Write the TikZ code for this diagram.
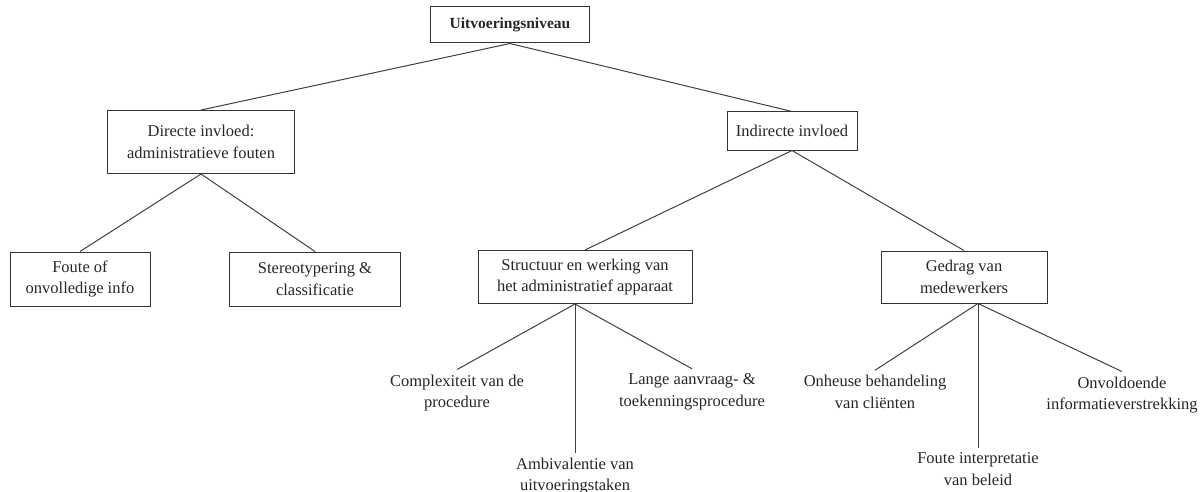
\documentclass[tikz,border=0pt]{standalone}
\usepackage{fontspec}
\setmainfont{Liberation Serif}
\usetikzlibrary{positioning}

\begin{document}
\begin{tikzpicture}[x=1pt, y=-1pt, font=\fontsize{16.5}{21.5}\selectfont]
          \tikzstyle{box}=[rectangle, draw=black!80, line width=1pt, align=center, inner sep=2pt, text=black!85]
          \tikzstyle{leaf}=[align=center, inner sep=5pt, text=black!85]
          \tikzstyle{tak}=[draw=black!75, line width=1pt]

          \useasboundingbox (0,0) rectangle (1204,492);

          \node[box, font=\fontsize{15.5}{21}\selectfont\bfseries, minimum width=159, minimum height=36] (top) at (510,25) {Uitvoeringsniveau};

          \node[box, minimum width=187, minimum height=63] (direct) at (201,142) {Directe invloed:\\administratieve fouten};
          \node[box, minimum width=130, minimum height=38] (indirect) at (792,131) {Indirecte invloed};

          \node[box, minimum width=140, minimum height=54] (foute) at (80,279) {Foute of\\onvolledige info};
          \node[box, minimum width=171, minimum height=54] (stereo) at (315,279) {Stereotypering \&\\classificatie};
          \node[box, minimum width=214, minimum height=53] (structuur) at (585,277) {Structuur en werking van\\het administratief apparaat};
          \node[box, minimum width=166, minimum height=52] (gedrag) at (964,277) {Gedrag van\\medewerkers};

          \node[leaf] (complex) at (457,393) {Complexiteit van de\\procedure};
          \node[leaf] (ambi) at (575,476) {Ambivalentie van\\uitvoeringstaken};
          \node[leaf] (lange) at (692,392) {Lange aanvraag- \&\\toekenningsprocedure};

          \node[leaf] (onheuse) at (875,392) {Onheuse behandeling\\van cliënten};
          \node[leaf] (interpretatie) at (978,469) {Foute interpretatie\\van beleid};
          \node[leaf] (onvoldoende) at (1122,395) {Onvoldoende\\informatieverstrekking};

          \path[tak] (top.south) -- (direct.north);
          \path[tak] (top.south) -- (indirect.north);
          \path[tak] (direct.south) -- (foute.north);
          \path[tak] (direct.south) -- (stereo.north);
          \path[tak] (indirect.south) -- (structuur.north);
          \path[tak] (indirect.south) -- (gedrag.north);
          \path[tak] (structuur.south -| ambi) -- (complex.north);
          \path[tak] (structuur.south -| ambi) -- (ambi.north);
          \path[tak] (structuur.south -| ambi) -- (lange.north);
          \path[tak] (gedrag.south -| interpretatie) -- (onheuse.north);
          \path[tak] (gedrag.south -| interpretatie) -- (interpretatie.north);
          \path[tak] (gedrag.south -| interpretatie) -- (onvoldoende.north);

        \end{tikzpicture}
\end{document}
